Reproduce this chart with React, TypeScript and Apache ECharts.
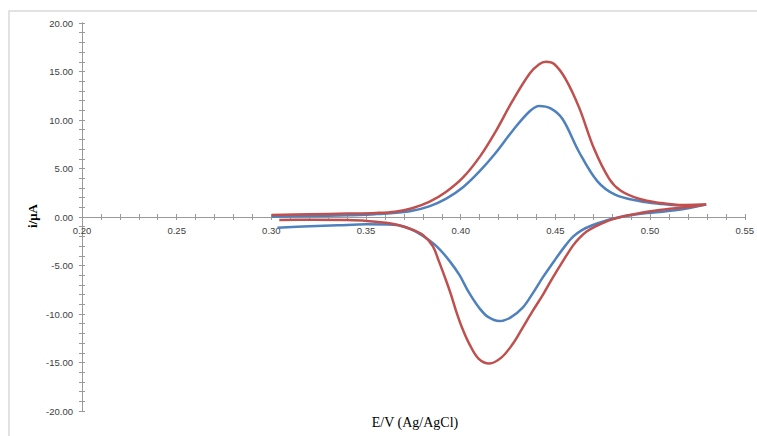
import React, { useEffect, useRef } from "react";
import * as echarts from "echarts";

// Red (larger) voltammogram: forward (anodic) branch
const redFwdE = [0.300, 0.320, 0.340, 0.355, 0.365, 0.374, 0.383, 0.392, 0.401, 0.410, 0.418, 0.427, 0.436, 0.441, 0.4445, 0.449, 0.455, 0.462, 0.470, 0.478, 0.484, 0.494, 0.504, 0.515, 0.529];
const redFwdI = [0.20, 0.28, 0.35, 0.42, 0.55, 0.90, 1.55, 2.60, 4.10, 6.30, 8.80, 12.0, 14.8, 15.75, 16.0, 15.75, 14.2, 11.3, 7.0, 3.9, 2.7, 1.85, 1.47, 1.25, 1.30];
// Red reverse (cathodic) branch
const redRevE = [0.518, 0.508, 0.498, 0.490, 0.485, 0.480, 0.476, 0.471, 0.466, 0.462, 0.4586, 0.453, 0.448, 0.443, 0.4375, 0.432, 0.427, 0.421, 0.4147, 0.409, 0.4042, 0.4005, 0.3972, 0.3945, 0.392, 0.388, 0.3849, 0.380, 0.374, 0.366, 0.360, 0.350, 0.340, 0.320, 0.304];
const redRevI = [1.00, 0.80, 0.55, 0.25, 0.05, -0.22, -0.5, -0.95, -1.5, -2.2, -3.0, -4.7, -6.3, -8.0, -9.7, -11.5, -13.1, -14.5, -15.1, -14.6, -13.1, -11.5, -9.7, -8.0, -6.6, -4.5, -3.0, -1.9, -1.3, -0.8, -0.6, -0.4, -0.32, -0.28, -0.3];

// Blue (smaller) voltammogram: forward branch
const blueFwdE = [0.300, 0.320, 0.340, 0.355, 0.364, 0.374, 0.383, 0.392, 0.401, 0.4095, 0.418, 0.427, 0.436, 0.441, 0.447, 0.4533, 0.462, 0.4716, 0.481, 0.4937, 0.504, 0.515, 0.529];
const blueFwdI = [0.02, 0.10, 0.18, 0.30, 0.40, 0.65, 1.10, 1.90, 3.10, 4.70, 6.60, 8.90, 10.9, 11.45, 11.2, 10.1, 6.7, 3.7, 2.3, 1.65, 1.37, 1.20, 1.30];
// Blue reverse branch
const blueRevE = [0.518, 0.508, 0.498, 0.490, 0.482, 0.476, 0.469, 0.4635, 0.459, 0.455, 0.449, 0.4428, 0.4375, 0.4323, 0.426, 0.420, 0.414, 0.4095, 0.404, 0.399, 0.394, 0.3884, 0.383, 0.376, 0.370, 0.364, 0.350, 0.335, 0.320, 0.303];
const blueRevI = [0.85, 0.60, 0.40, 0.20, -0.08, -0.38, -0.85, -1.35, -2.0, -2.9, -4.5, -6.25, -7.9, -9.35, -10.35, -10.72, -10.3, -9.4, -7.8, -6.0, -4.6, -3.3, -2.4, -1.5, -1.0, -0.8, -0.76, -0.85, -0.95, -1.1];

const xTicks = { min: 0.2, max: 0.55, interval: 0.05 };
const yTicks = { min: -20, max: 20, interval: 5 };

const xTitle = "E/V (Ag/AgCl)";
const yTitle = "i/μA";

function pairs(ex: number[], iy: number[]) {
  return ex.map((e, k) => [e, iy[k]]);
}

export default function App() {
  const ref = useRef<HTMLDivElement>(null);
  useEffect(() => {
    if (!ref.current) return;
    const chart = echarts.init(ref.current, undefined, { renderer: "svg" });
    const axisColor = "#9a9a9a";
    const labelStyle = {
      color: "#404040",
      fontSize: 9.5,
      fontFamily: "Liberation Sans, Arial, sans-serif",
    };
    const redData = [...pairs(redFwdE, redFwdI), ...pairs(redRevE, redRevI)];
    const blueData = [...pairs(blueFwdE, blueFwdI), ...pairs(blueRevE, blueRevI)];

    const top = 23;
    const plotH = 436 - 23 - 25;
    // upper half grid ends exactly at i = 0, so its bottom axis is the zero line
    const zeroY = top + plotH * (yTicks.max / (yTicks.max - yTicks.min));

    const baseX = {
      type: "value" as const,
      min: xTicks.min,
      max: xTicks.max,
      interval: xTicks.interval,
      position: "bottom" as const,
      splitLine: { show: false },
      minorSplitLine: { show: false },
    };
    const baseY = {
      type: "value" as const,
      min: yTicks.min,
      max: yTicks.max,
      interval: yTicks.interval,
      position: "left" as const,
      axisLine: { show: true, onZero: false, lineStyle: { color: axisColor, width: 1 } },
      splitLine: { show: false },
      minorSplitLine: { show: false },
    };
    chart.setOption({
      animation: false,
      backgroundColor: "#ffffff",
      grid: [
        { left: 82, right: 11, top: top, height: plotH, containLabel: false },
        { left: 82, right: 11, top: top, height: zeroY - top, containLabel: false },
      ],
      xAxis: [
        { ...baseX, gridIndex: 0, show: false },
        {
          ...baseX,
          gridIndex: 1,
          axisLine: { show: true, onZero: false, lineStyle: { color: axisColor, width: 1 } },
          axisTick: { show: true, inside: false, length: 3, lineStyle: { color: axisColor } },
          minorTick: { show: true, splitNumber: 5, length: 3, lineStyle: { color: axisColor } },
          axisLabel: {
            ...labelStyle,
            margin: 8,
            formatter: (v: number) => v.toFixed(2),
          },
        },
        {
          ...baseX,
          gridIndex: 1,
          axisLine: { show: false, onZero: false },
          axisTick: { show: true, inside: true, length: 3, lineStyle: { color: axisColor } },
          minorTick: { show: true, splitNumber: 5, length: 3, lineStyle: { color: axisColor } },
          axisLabel: { show: false },
        },
      ],
      yAxis: [
        {
          ...baseY,
          gridIndex: 0,
          axisTick: { show: true, inside: false, length: 3, lineStyle: { color: axisColor } },
          minorTick: { show: true, splitNumber: 5, length: 3, lineStyle: { color: axisColor } },
          axisLabel: {
            ...labelStyle,
            margin: 9,
            formatter: (v: number) => v.toFixed(2),
          },
        },
        {
          ...baseY,
          gridIndex: 0,
          axisTick: { show: true, inside: true, length: 3, lineStyle: { color: axisColor } },
          minorTick: { show: true, splitNumber: 5, length: 3, lineStyle: { color: axisColor } },
          axisLabel: { show: false },
        },
        {
          type: "value",
          gridIndex: 1,
          min: 0,
          max: yTicks.max,
          show: false,
        },
      ],
      graphic: [
        {
          type: "rect",
          shape: { x: 9, y: 11, width: 900, height: 600 },
          style: { fill: "none", stroke: "#d9d9d9", lineWidth: 1.5 },
          silent: true,
          z: -10,
        },
        {
          type: "text",
          x: 415,
          y: 422,
          style: {
            text: xTitle,
            fill: "#000",
            font: "14px 'Liberation Serif', 'Times New Roman', serif",
            textAlign: "center",
            textVerticalAlign: "middle",
          },
        },
        {
          type: "text",
          x: 32,
          y: 216,
          rotation: Math.PI / 2,
          style: {
            text: yTitle,
            fill: "#000",
            font: "bold 13px 'Liberation Serif', 'Times New Roman', serif",
            textAlign: "center",
            textVerticalAlign: "middle",
          },
        },
      ],
      series: [
        {
          type: "line",
          name: "blue",
          data: blueData,
          xAxisIndex: 0,
          yAxisIndex: 0,
          showSymbol: false,
          smooth: 0.35,
          lineStyle: { color: "#4F81BD", width: 2.5 },
          itemStyle: { color: "#4F81BD" },
          z: 3,
        },
        {
          type: "line",
          name: "red",
          data: redData,
          xAxisIndex: 0,
          yAxisIndex: 0,
          showSymbol: false,
          smooth: 0.35,
          lineStyle: { color: "#C0504D", width: 2.5 },
          itemStyle: { color: "#C0504D" },
          z: 4,
        },
      ],
    });
    return () => chart.dispose();
  }, []);
  return (
    <div
      ref={ref}
      style={{ position: "fixed", left: 0, top: 0, width: 757, height: 436 }}
    />
  );
}
